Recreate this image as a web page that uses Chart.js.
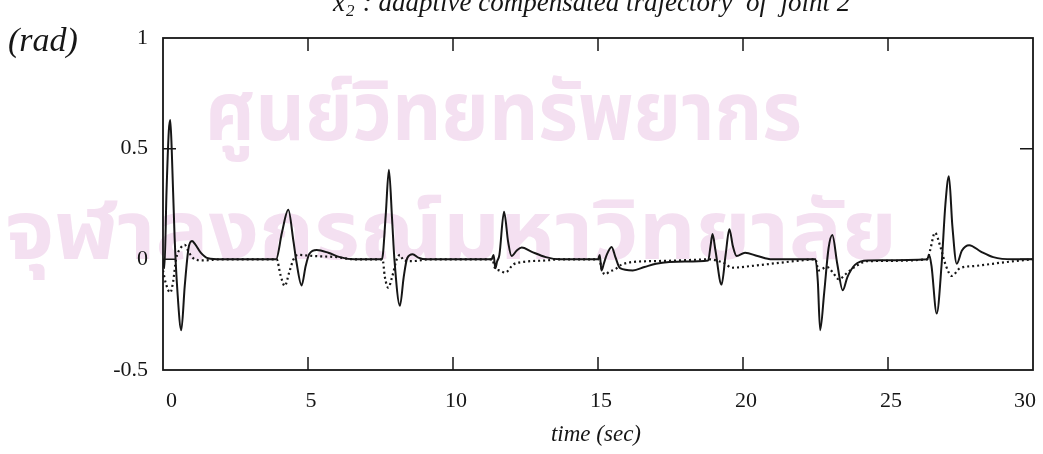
<!DOCTYPE html>
<html>
<head>
<meta charset="utf-8">
<script src="https://cdn.jsdelivr.net/npm/chart.js@4.4.1/dist/chart.umd.min.js"></script>
<style>
  html, body { margin: 0; padding: 0; background: #fff; }
  #wrap { width: 1043px; height: 454px; }
</style>
</head>
<body>
<div id="wrap"><canvas id="c" width="1043" height="454"></canvas></div>
<script>
// axis ticks
const xTicks = [0, 5, 10, 15, 20, 25, 30];
const yTicks = [-0.5, 0, 0.5, 1];

// solid trace: adaptive compensated response
const tSolid = [0, 0.05, 0.12, 0.2, 0.25, 0.3, 0.4, 0.5, 0.63, 0.75, 0.88, 1.0, 1.1, 1.3, 1.55, 2.0,
  3.9, 4.1, 4.32, 4.5, 4.6, 4.78, 4.92, 5.05, 5.3, 5.7, 6.1, 6.6,
  7.55, 7.68, 7.79, 7.9, 7.98, 8.17, 8.3, 8.42, 8.61, 8.8, 9.1,
  11.33, 11.4, 11.46, 11.52, 11.6, 11.76, 11.9, 12.02, 12.2, 12.37, 12.7, 13.2, 13.7,
  15.0, 15.06, 15.12, 15.2, 15.3, 15.47, 15.6, 15.76, 16.2, 16.6, 17.0, 18.0, 18.8,
  18.88, 18.95, 19.05, 19.26, 19.4, 19.53, 19.65, 19.78, 20.07, 20.5, 21.0,
  22.5, 22.58, 22.66, 22.8, 22.95, 23.08, 23.25, 23.44, 23.6, 23.86, 24.3,
  26.35, 26.42, 26.5, 26.68, 26.85, 26.98, 27.1, 27.22, 27.37, 27.55, 27.8, 28.2, 28.63, 29.3, 30];
const ySolid = [0, -0.04, 0.3, 0.58, 0.63, 0.5, 0.1, -0.15, -0.32, -0.12, 0.05, 0.083, 0.07, 0.03, 0.005, 0,
  0, 0.12, 0.224, 0.08, -0.01, -0.118, -0.03, 0.025, 0.042, 0.03, 0.01, 0,
  0, 0.2, 0.405, 0.18, 0, -0.21, -0.08, 0.005, 0.023, 0.008, 0,
  0, 0.02, -0.04, -0.01, 0.02, 0.215, 0.08, 0.015, 0.04, 0.053, 0.035, 0.01, 0,
  0, 0.02, -0.05, -0.02, 0.02, 0.056, 0.01, -0.04, -0.05, -0.035, -0.02, -0.01, -0.005,
  0.06, 0.114, 0.04, -0.114, 0.02, 0.136, 0.06, 0.015, 0.03, 0.015, 0,
  0, -0.1, -0.32, -0.15, 0.05, 0.11, -0.02, -0.14, -0.08, -0.025, -0.005,
  0, 0.02, -0.03, -0.245, -0.02, 0.25, 0.375, 0.15, -0.02, 0.04, 0.064, 0.035, 0.01, 0, 0];

// dotted trace: reference trajectory
const tDotted = [0, 0.1, 0.25, 0.35, 0.45, 0.6, 0.75, 0.9, 1.1, 1.4, 2.0,
  3.92, 4.05, 4.2, 4.35, 4.5, 4.65, 5.2, 6.0, 6.6,
  7.57, 7.65, 7.77, 7.9, 8.06, 8.17, 8.3, 8.6, 9.2,
  11.35, 11.45, 11.6, 11.8, 12.08, 12.4, 13.2, 13.7,
  15.05, 15.12, 15.24, 15.4, 15.59, 15.8, 16.2, 17.0, 18.0, 18.85,
  19.2, 19.4, 19.6, 20.3, 21.3, 22.0, 22.5,
  22.6, 22.9, 23.1, 23.3, 23.6, 23.9, 24.3, 26.35,
  26.45, 26.62, 26.8, 27.0, 27.2, 27.48, 28.0, 29.1, 30];
const yDotted = [-0.05, -0.11, -0.15, -0.1, 0, 0.05, 0.065, 0.03, 0, -0.005, 0,
  0, -0.07, -0.12, -0.06, 0, 0.02, 0.015, 0.01, 0,
  0, -0.08, -0.128, -0.08, 0, 0.02, -0.005, -0.008, 0,
  0, -0.04, -0.05, -0.06, -0.023, -0.012, -0.005, 0,
  0, -0.04, -0.068, -0.055, -0.045, -0.025, -0.012, -0.008, -0.004, 0,
  -0.01, -0.02, -0.038, -0.03, -0.015, -0.005, 0,
  -0.05, -0.035, -0.06, -0.09, -0.06, -0.03, -0.008, 0,
  0.04, 0.12, 0.06, -0.03, -0.075, -0.04, -0.03, -0.012, 0];

const INK = '#161616';
const SERIF = '"Liberation Serif", "DejaVu Serif", serif';

const toPoints = (xs, ys) => xs.map((x, i) => ({ x, y: ys[i] }));

// one line of the pink stamp, stretched to a given width
function stampLine(ctx, text, left, baseline, width) {
  const w = ctx.measureText(text).width;
  ctx.save();
  ctx.translate(left, baseline);
  ctx.scale(width / w, 1);
  ctx.fillText(text, 0, 0);
  ctx.restore();
}

// pink stamp under everything else
const stampPlugin = {
  id: 'stamp',
  beforeDraw(chart) {
    const ctx = chart.ctx;
    ctx.save();
    ctx.fillStyle = '#f4e0f1';
    ctx.font = 'bold 82px "Noto Sans Thai", "Noto Sans", "DejaVu Sans", sans-serif';
    ctx.textBaseline = 'alphabetic';
    stampLine(ctx, 'ศูนย์วิทยทรัพยากร', 205, 140, 597);
    stampLine(ctx, 'จุฬาลงกรณ์มหาวิทยาลัย', 5, 259, 892);
    ctx.restore();
  }
};

// frame, inward ticks and text around the axes
const framePlugin = {
  id: 'frame',
  afterDraw(chart) {
    const { ctx, chartArea: a, scales: { x, y } } = chart;
    ctx.save();
    ctx.strokeStyle = INK;
    ctx.lineWidth = 1.8;
    ctx.strokeRect(a.left, a.top, a.right - a.left, a.bottom - a.top);
    ctx.lineWidth = 1.5;
    ctx.beginPath();
    xTicks.slice(1, -1).forEach(v => {
      const px = x.getPixelForValue(v);
      ctx.moveTo(px, a.bottom); ctx.lineTo(px, a.bottom - 13);
      ctx.moveTo(px, a.top); ctx.lineTo(px, a.top + 13);
    });
    yTicks.slice(1, -1).forEach(v => {
      const py = y.getPixelForValue(v);
      ctx.moveTo(a.left, py); ctx.lineTo(a.left + 13, py);
      ctx.moveTo(a.right, py); ctx.lineTo(a.right - 13, py);
    });
    ctx.stroke();

    ctx.fillStyle = INK;
    ctx.textBaseline = 'alphabetic';
    // title, partly above the page edge
    ctx.font = 'italic 27px ' + SERIF;
    ctx.fillText('x', 333, 11);
    ctx.font = 'italic 17px ' + SERIF;
    ctx.fillText('2', 346, 16);
    ctx.font = 'italic 27px ' + SERIF;
    ctx.fillText(' : adaptive compensated trajectory  of  joint 2', 356, 11);
    // unit label
    ctx.font = 'italic 34px ' + SERIF;
    ctx.fillText('(rad)', 8, 51);
    // x label
    ctx.font = 'italic 23px ' + SERIF;
    ctx.textAlign = 'center';
    ctx.fillText('time (sec)', 596, 441);
    ctx.restore();
  }
};

new Chart(document.getElementById('c'), {
  type: 'line',
  data: {
    datasets: [
      {
        data: toPoints(tSolid, ySolid),
        borderColor: INK,
        borderWidth: 2,
        pointRadius: 0,
        cubicInterpolationMode: 'monotone'
      },
      {
        data: toPoints(tDotted, yDotted),
        borderColor: INK,
        borderWidth: 2.2,
        borderDash: [2, 3],
        pointRadius: 0,
        cubicInterpolationMode: 'monotone'
      }
    ]
  },
  options: {
    responsive: false,
    animation: false,
    events: [],
    layout: { padding: { top: 38, right: 10, left: 0, bottom: 0 } },
    plugins: { legend: { display: false }, tooltip: { enabled: false }, title: { display: false } },
    scales: {
      x: {
        type: 'linear',
        min: 0, max: 30,
        afterBuildTicks: s => { s.ticks = xTicks.map(v => ({ value: v })); },
        afterFit: s => { s.height = 84; s.paddingLeft = 0; s.paddingRight = 0; },
        grid: { display: false, drawTicks: false },
        border: { display: false },
        ticks: {
          color: INK,
          align: 'inner',
          labelOffset: 3,
          padding: 18,
          maxRotation: 0,
          font: { family: SERIF, size: 22 }
        }
      },
      y: {
        type: 'linear',
        min: -0.5, max: 1,
        afterBuildTicks: s => { s.ticks = yTicks.map(v => ({ value: v })); },
        afterFit: s => { s.width = 163; s.paddingTop = 0; s.paddingBottom = 0; },
        grid: { display: false, drawTicks: false },
        border: { display: false },
        ticks: {
          color: INK,
          padding: 15,
          font: { family: SERIF, size: 22 },
          callback: v => String(v)
        }
      }
    }
  },
  plugins: [stampPlugin, framePlugin]
});
</script>
</body>
</html>
